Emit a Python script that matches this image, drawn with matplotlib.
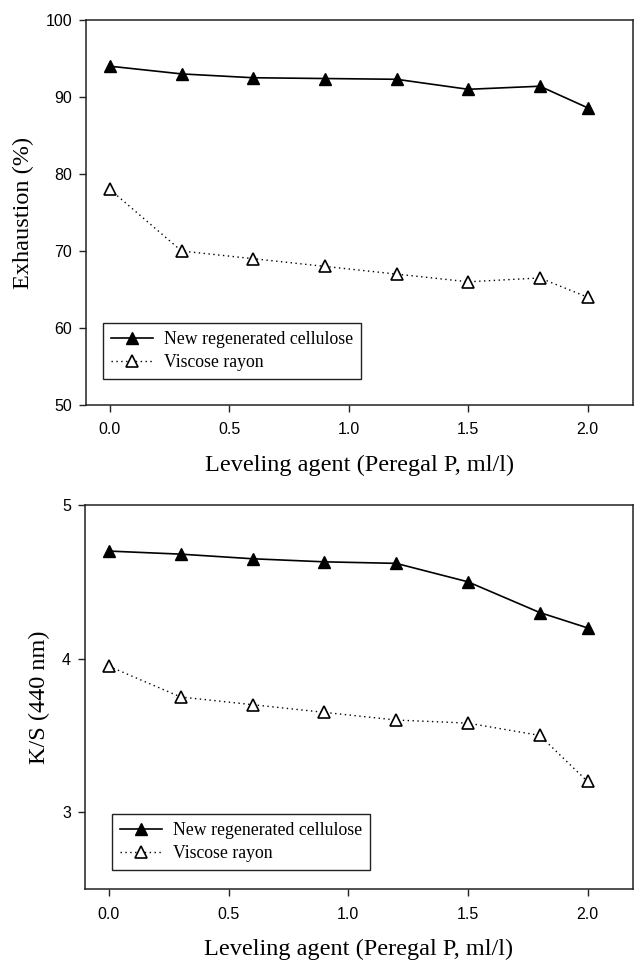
import matplotlib
matplotlib.use('Agg')
import matplotlib.pyplot as plt

# leveling agent concentration (ml/l)
levels = [0.0, 0.3, 0.6, 0.9, 1.2, 1.5, 1.8, 2.0]

# exhaustion (%)
exh_new = [94.0, 93.0, 92.5, 92.4, 92.3, 91.0, 91.4, 88.6]
exh_viscose = [78.0, 70.0, 69.0, 68.0, 67.0, 66.0, 66.5, 64.0]

# K/S at 440 nm
ks_new = [4.70, 4.68, 4.65, 4.63, 4.62, 4.50, 4.30, 4.20]
ks_viscose = [3.95, 3.75, 3.70, 3.65, 3.60, 3.58, 3.50, 3.20]

series_names = ['New regenerated cellulose', 'Viscose rayon']
x_ticks = [0.0, 0.5, 1.0, 1.5, 2.0]
x_label = 'Leveling agent (Peregal P, ml/l)'

serif = 'Liberation Serif'
sans = 'Liberation Sans'

fig = plt.figure(figsize=(6.34, 9.6), dpi=100)
ax1 = fig.add_axes([86 / 634, 1 - 405 / 960, 547 / 634, 385 / 960])
ax2 = fig.add_axes([85 / 634, 1 - 889 / 960, 548 / 634, 384 / 960])


def draw_panel(ax, y_new, y_visc, ylim, yticks, ylabel, ylabel_x, leg_xy,
               xtick_pad, xlab_pad):
    ax.plot(levels, y_new, color='black', linestyle='-', linewidth=1.2,
            marker='^', markersize=8, markerfacecolor='black',
            markeredgecolor='black', label=series_names[0])
    ax.plot(levels, y_visc, color='black', linestyle=(0, (1, 2.5)), linewidth=1.0,
            marker='^', markersize=8, markerfacecolor='white',
            markeredgecolor='black', markeredgewidth=1.2, label=series_names[1])
    ax.set_xlim(-0.1, 2.19)
    ax.set_ylim(*ylim)
    ax.set_xticks(x_ticks)
    ax.set_xticklabels(['%.1f' % v for v in x_ticks], fontfamily=sans, fontsize=11.5)
    ax.set_yticks(yticks)
    ax.set_yticklabels([str(v) for v in yticks], fontfamily=sans, fontsize=11.5)
    ax.tick_params(direction='out', length=5, width=1, color='#222222', pad=5)
    ax.tick_params(axis='x', pad=xtick_pad)
    for sp in ax.spines.values():
        sp.set_linewidth(1.1)
        sp.set_color('#222222')
    ax.set_xlabel(x_label, fontfamily=serif, fontsize=17.5, labelpad=xlab_pad)
    ax.set_ylabel(ylabel, fontfamily=serif, fontsize=17.5)
    ax.yaxis.set_label_coords(ylabel_x, 0.5)
    leg = ax.legend(loc='lower left', bbox_to_anchor=leg_xy, borderaxespad=0,
                    prop={'family': serif, 'size': 12.75}, fancybox=False,
                    framealpha=1, edgecolor='#222222', handlelength=2.4,
                    handletextpad=0.6, labelspacing=0.35, borderpad=0.45)
    leg.get_frame().set_linewidth(1.0)


draw_panel(ax1, exh_new, exh_viscose, (50, 100), [50, 60, 70, 80, 90, 100],
           'Exhaustion (%)', (34 - 86) / 547, (0.031, 0.0675), 7, 13)
draw_panel(ax2, ks_new, ks_viscose, (2.5, 5.0), [3, 4, 5],
           'K/S (440 nm)', (50 - 85) / 548, (0.049, 0.049), 8, 12)

fig.savefig('out.png', dpi=100)
